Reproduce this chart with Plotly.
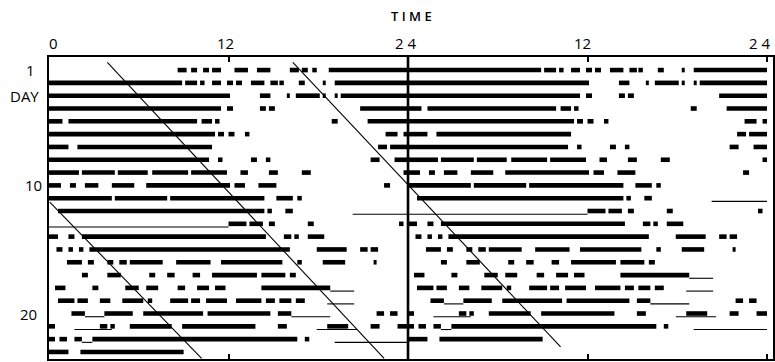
import plotly.graph_objects as go

# ---- activity bouts (hours of day), one list per day ----
day01 = [(8.6, 9.2), (9.5, 9.9), (10.3, 10.7), (10.9, 11.5), (12.4, 13.3), (13.9, 14.8),
         (16.1, 16.7), (16.9, 17.3), (17.6, 17.9), (18.7, 24)]
day02 = [(0, 8.9), (9.1, 9.9), (10.1, 10.4), (10.9, 11.5), (11.9, 12.3), (12.5, 12.9),
         (13.5, 14.4), (14.8, 15.3), (15.4, 15.7), (16.7, 17.1), (18.3, 18.5), (19.1, 24)]
day03 = [(0, 12.1), (14.1, 14.8), (15.9, 16.1), (16.5, 18.1), (18.3, 18.5), (19.1, 19.3), (19.5, 24)]
day04 = [(0, 11.5), (11.9, 12.3), (14.1, 14.5), (14.7, 15.1), (20.8, 24)]
day05 = [(0, 0.9), (1.3, 9.9), (10.2, 10.9), (11.1, 11.4), (18.9, 19.3), (21.3, 24)]
day06 = [(0, 11.1), (11.3, 11.7), (12.0, 12.4), (13.1, 13.4), (22.5, 23.3), (23.7, 24)]
day07 = [(0, 1.3), (1.9, 10.9), (22.0, 22.6), (22.8, 24)]
day08 = [(0, 10.7), (11.3, 11.6), (13.5, 13.9), (14.5, 14.8), (21.5, 22.1), (23.1, 24)]
day09 = [(0, 2.0), (2.2, 4.4), (4.6, 6.6), (6.9, 9.3), (9.5, 11.9), (12.8, 13.3),
         (14.7, 15.3), (16.9, 17.5), (23.7, 24)]
day10 = [(0, 0.8), (1.4, 1.8), (2.4, 3.3), (4.2, 5.7), (6.5, 12.1), (12.4, 13.1),
         (14.0, 15.2), (22.4, 22.8)]
day11 = [(0, 4.2), (4.4, 7.9), (8.1, 14.4), (15.2, 16.3), (16.6, 16.9)]
day12 = [(0.6, 14.4), (14.6, 14.9), (15.8, 16.3)]
day13 = [(12.0, 13.2), (13.4, 14.3), (14.7, 15.1), (17.3, 17.7), (23.4, 23.7)]
day14 = [(0, 0.6), (1.3, 1.7), (2.2, 14.5), (15.7, 16.2), (16.4, 16.7), (17.3, 18.4)]
day15 = [(0.5, 0.9), (1.3, 1.6), (2.0, 2.3), (2.7, 16.1), (17.9, 19.9), (20.8, 21.3), (21.5, 22.0)]
day16 = [(1.2, 2.2), (2.6, 3.0), (3.9, 4.3), (4.7, 5.2), (5.4, 7.6), (8.5, 10.8),
         (11.5, 15.6), (16.6, 16.9), (18.3, 19.8), (21.7, 21.9)]
day17 = [(2.2, 2.6), (3.9, 4.8), (6.7, 7.1), (7.9, 8.4), (9.6, 10.1), (10.9, 13.9),
         (14.2, 15.8), (16.1, 16.5)]
day18 = [(0.4, 1.1), (2.9, 3.3), (5.1, 6.0), (6.5, 7.3), (8.6, 9.1), (9.9, 10.7),
         (11.1, 11.8), (14.2, 18.8)]
day19 = [(0.6, 1.7), (1.9, 2.6), (3.4, 4.1), (4.9, 6.3), (6.6, 6.9), (8.1, 9.3), (9.5, 10.1),
         (10.5, 11.9), (12.5, 14.2), (14.5, 15.1), (15.4, 16.2), (16.5, 17.1)]
day20 = [(1.5, 2.4), (3.7, 5.6), (6.3, 10.3), (10.6, 14.8), (15.3, 16.2), (21.9, 22.4), (22.8, 23.3)]
day21 = [(0, 0.4), (3.4, 3.9), (4.1, 4.4), (5.4, 8.2), (8.9, 13.8), (15.3, 15.9), (18.6, 20.0),
         (21.5, 22.1), (23.3, 24)]
day22 = [(0, 0.4), (0.7, 1.2), (1.7, 2.2), (2.9, 16.6), (17.1, 17.4)]
day23 = [(0, 1.3), (2.1, 9.0)]

activity_days = [day01, day02, day03, day04, day05, day06, day07, day08, day09, day10,
                 day11, day12, day13, day14, day15, day16, day17, day18, day19, day20,
                 day21, day22, day23]

# low-level (thin-trace) activity: day, start hour, end hour
thin_day = [12, 13, 18, 19, 20, 20, 21, 21, 22, 22]
thin_start = [20.3, 0.0, 18.8, 18.6, 2.4, 16.2, 1.7, 17.9, 2.2, 19.1]
thin_end = [24.0, 12.0, 20.4, 20.4, 3.7, 18.8, 4.2, 20.6, 2.9, 24.0]

# fitted onset lines: (start hour, start day) -> (end hour, end day)
fit_h0 = [3.9, 16.3, 0.05]
fit_d0 = [0.4, 0.4, 11.3]
fit_h1 = [22.4, 34.2, 10.2]
fit_d1 = [23.5, 22.6, 23.5]

x_tick_vals = [0, 12, 24, 36, 48]
x_tick_text = ["0", "12", "2 4", "12", "2 4"]
y_label_vals = [1, 3, 10, 20]
y_label_text = ["1", "DAY", "10", "20"]
n_rows = len(activity_days)

FONT = "Open Sans, Lato, DejaVu Sans, sans-serif"

# ---- build double-plotted traces ----
thick_x, thick_y = [], []
for i, segs in enumerate(activity_days):
    day = i + 1
    for s, e in segs:
        thick_x += [s, e, None]
        thick_y += [day, day, None]
        if day >= 2:  # same day also shown in right half of previous row
            thick_x += [s + 24, e + 24, None]
            thick_y += [day - 1, day - 1, None]

thin_x, thin_y = [], []
for d, s, e in zip(thin_day, thin_start, thin_end):
    thin_x += [s, e, None]
    thin_y += [d + 0.25, d + 0.25, None]
    if d >= 2:
        thin_x += [s + 24, e + 24, None]
        thin_y += [d - 1 + 0.25, d - 1 + 0.25, None]

fig = go.Figure()
fig.add_trace(go.Scatter(x=thick_x, y=thick_y, mode="lines",
                         line=dict(color="black", width=4.6), hoverinfo="skip"))
fig.add_trace(go.Scatter(x=thin_x, y=thin_y, mode="lines",
                         line=dict(color="black", width=1.1), hoverinfo="skip"))
for h0, d0, h1, d1 in zip(fit_h0, fit_d0, fit_h1, fit_d1):
    fig.add_trace(go.Scatter(x=[h0, h1], y=[d0, d1], mode="lines",
                             line=dict(color="black", width=1.1), hoverinfo="skip"))

# vertical line separating the two plotted days
fig.add_shape(type="line", x0=24, x1=24, xref="x", y0=0, y1=1, yref="paper",
              line=dict(color="black", width=2.6))

# top tick labels
label_xshift = [4, -3, -3, -5, -8]
for v, t, xs in zip(x_tick_vals, x_tick_text, label_xshift):
    fig.add_annotation(x=v, y=1, xref="x", yref="paper", text=t, showarrow=False,
                       xanchor="center", yanchor="middle", yshift=14, xshift=xs,
                       font=dict(family=FONT, size=15, color="black"))
fig.add_annotation(x=24, y=1, xref="x", yref="paper", text="T I M E", showarrow=False,
                   xanchor="center", yanchor="middle", yshift=41, xshift=3,
                   font=dict(family=FONT, size=13, color="black", weight=600))
# left labels
y_label_centers = [-19, -25, -16, -21]
for v, t, xs in zip(y_label_vals, y_label_text, y_label_centers):
    fig.add_annotation(x=0, y=v, xref="paper", yref="y", text=t, showarrow=False,
                       xanchor="center", yanchor="middle", xshift=xs,
                       font=dict(family=FONT, size=15, color="black"))

fig.update_layout(
    width=775, height=362,
    margin=dict(l=49, r=0, t=57, b=3),
    paper_bgcolor="white", plot_bgcolor="white",
    showlegend=False,
    xaxis=dict(range=[0, 48.4], side="top", showgrid=False, zeroline=False,
               showline=True, linecolor="black", linewidth=2, mirror="ticks",
               ticks="inside", ticklen=5, tickwidth=1.5, tickcolor="black",
               tickvals=x_tick_vals, showticklabels=False, fixedrange=True),
    yaxis=dict(range=[n_rows + 0.55, -0.02], showgrid=False, zeroline=False,
               showline=True, linecolor="black", linewidth=2, mirror=True,
               ticks="", showticklabels=False, fixedrange=True),
)

fig.write_html("out.html", config={"displayModeBar": False},
               post_script="document.body.style.margin='0';document.body.style.overflow='hidden';")
